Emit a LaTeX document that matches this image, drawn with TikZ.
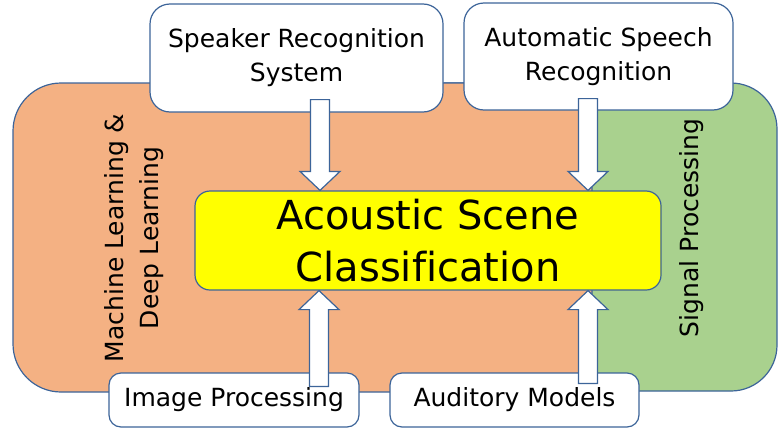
\documentclass[tikz,border=0pt]{standalone}
\usepackage{fontspec}
\setmainfont[Ligatures=NoCommon]{DejaVu Sans}
\usetikzlibrary{calc}
\definecolor{edge}{HTML}{3C6499}
\definecolor{mlfill}{HTML}{F4B183}
\definecolor{spfill}{HTML}{A9D18E}
\definecolor{ascfill}{HTML}{FFFF00}
\tikzset{
  region/.style={draw=edge, line width=1.2pt, rounded corners=48pt, inner sep=0pt},
  topbox/.style={draw=edge, fill=white, line width=1.2pt, rounded corners=20pt, inner sep=0pt, align=center, font=\fontsize{25}{34}\selectfont},
  botbox/.style={draw=edge, fill=white, line width=1.2pt, rounded corners=12pt, inner sep=0pt, align=center, font=\fontsize{25}{30}\selectfont},
  mainbox/.style={draw=edge, fill=ascfill, line width=1.2pt, rounded corners=15pt, inner sep=0pt, align=center, font=\fontsize{40}{52}\selectfont},
  sidelabel/.style={rotate=90, align=center, inner sep=0pt, font=\fontsize{25}{35}\selectfont},
  blk/.style={draw=edge, fill=white, line width=1.2pt, line join=miter}
}
\newcommand\blockarr[3]{%
  \draw[blk] ($(#1)+(-9.5,0)$) -- ($(#2)+(-9.5,#3*19)$) -- ($(#2)+(-20,#3*19)$) -- (#2)
    -- ($(#2)+(20,#3*19)$) -- ($(#2)+(9.5,#3*19)$) -- ($(#1)+(9.5,0)$) -- cycle;}
\begin{document}
\begin{tikzpicture}[x=1pt,y=-1pt]
\useasboundingbox (0,0) rectangle (778,431);
% background regions
\node[region, fill=spfill, minimum width=377pt, minimum height=308pt, rounded corners=46pt] (sp) at (588.5,237) {};
\node[region, fill=mlfill, minimum width=579pt, minimum height=309pt] (ml) at (302.5,237.5) {};
\node[sidelabel] (mltext) at (134,238) {Machine Learning \&\\Deep Learning};
\node[sidelabel] (sptext) at (692,228) {Signal Processing};
% central box
\node[mainbox, minimum width=466pt, minimum height=99pt] (asc) at (428,240.5) {Acoustic Scene\\Classification};
% top boxes
\node[topbox, minimum width=293pt, minimum height=108pt] (spk) at (296.5,58) {Speaker Recognition\\System};
\node[topbox, minimum width=269pt, minimum height=107pt] (asr) at (598.5,56.5) {Automatic Speech\\Recognition};
% bottom boxes
\node[botbox, minimum width=250pt, minimum height=54pt] (img) at (234,400) {Image Processing};
\node[botbox, minimum width=249pt, minimum height=54pt] (aud) at (514.5,400) {Auditory Models};
% arrow x positions
\coordinate (xa) at (320,0);
\coordinate (xb) at (588,0);
\coordinate (xc) at (319,0);
\coordinate (xd) at (588,0);
% tails and tips
\coordinate (s1) at ($(xa |- spk.south)+(0,-13)$);
\coordinate (t1) at (xa |- asc.north);
\coordinate (s2) at ($(xb |- asr.south)+(0,-12)$);
\coordinate (t2) at (xb |- asc.north);
\coordinate (s3) at ($(xc |- img.north)+(0,14)$);
\coordinate (t3) at (xc |- asc.south);
\coordinate (s4) at ($(xd |- aud.north)+(0,11)$);
\coordinate (t4) at (xd |- asc.south);
\blockarr{s1}{t1}{-1}
\blockarr{s2}{t2}{-1}
\blockarr{s3}{t3}{1}
\blockarr{s4}{t4}{1}
\end{tikzpicture}
\end{document}
